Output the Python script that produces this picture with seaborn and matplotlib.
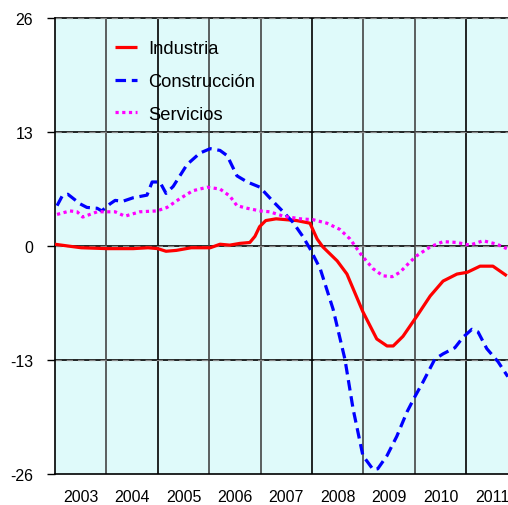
import matplotlib
matplotlib.use("Agg")
import matplotlib.pyplot as plt
import seaborn as sns
import pandas as pd

# ---- data (fractional years, % values) ----
ind_x = [2003.0, 2003.25, 2003.51, 2004.01, 2004.52, 2004.81, 2005.0, 2005.16, 2005.36, 2005.65,
         2006.02, 2006.21, 2006.4, 2006.6, 2006.79, 2006.89, 2006.98, 2007.1, 2007.3, 2007.5,
         2007.7, 2007.96, 2008.1, 2008.21, 2008.49, 2008.68, 2008.99, 2009.26, 2009.46, 2009.58,
         2009.77, 2010.04, 2010.3, 2010.55, 2010.82, 2011.02, 2011.27, 2011.52, 2011.79]
ind_y = [0.2, 0.0, -0.2, -0.3, -0.3, -0.2, -0.3, -0.6, -0.5, -0.2,
         -0.2, 0.2, 0.1, 0.3, 0.4, 1.1, 2.2, 2.9, 3.1, 3.0,
         2.9, 2.6, 0.8, -0.1, -1.7, -3.2, -7.5, -10.6, -11.4, -11.4,
         -10.3, -8.0, -5.7, -4.0, -3.2, -3.0, -2.3, -2.3, -3.4]

con_x = [2003.04, 2003.14, 2003.25, 2003.49, 2003.62, 2003.82, 2003.91, 2004.07, 2004.17, 2004.32,
         2004.52, 2004.79, 2004.89, 2005.04, 2005.16, 2005.3, 2005.57, 2005.82, 2006.02, 2006.21,
         2006.35, 2006.54, 2006.74, 2006.99, 2007.05, 2007.24, 2007.44, 2007.63, 2007.82, 2007.96,
         2008.16, 2008.41, 2008.64, 2008.8, 2008.99, 2009.19, 2009.28, 2009.46, 2009.65, 2009.85,
         2010.0, 2010.16, 2010.39, 2010.55, 2010.78, 2010.94, 2011.11, 2011.23, 2011.4, 2011.62,
         2011.81]
con_y = [4.6, 5.7, 5.9, 4.8, 4.4, 4.3, 4.0, 4.8, 5.2, 5.1,
         5.5, 5.8, 7.3, 7.3, 6.0, 6.8, 9.3, 10.6, 11.1, 10.9,
         10.3, 8.0, 7.3, 6.7, 6.3, 5.1, 3.9, 2.7, 1.1, -0.3,
         -2.6, -7.2, -12.9, -18.6, -23.9, -25.5, -25.4, -23.9, -21.7, -18.9,
         -17.2, -15.5, -12.9, -12.3, -11.6, -10.4, -9.5, -9.8, -11.7, -13.2,
         -14.9]

ser_x = [2003.04, 2003.29, 2003.43, 2003.54, 2003.82, 2004.01, 2004.17, 2004.36, 2004.65, 2004.98,
         2005.18, 2005.43, 2005.68, 2005.96, 2006.21, 2006.4, 2006.54, 2006.74, 2006.99, 2007.18,
         2007.44, 2007.77, 2008.02, 2008.29, 2008.54, 2008.74, 2008.97, 2009.19, 2009.38, 2009.56,
         2009.71, 2009.91, 2010.04, 2010.3, 2010.55, 2010.82, 2011.07, 2011.33, 2011.6, 2011.79]
ser_y = [3.6, 4.0, 3.9, 3.3, 3.9, 3.9, 3.9, 3.4, 3.9, 4.0,
         4.4, 5.4, 6.3, 6.7, 6.5, 5.7, 4.6, 4.3, 4.0, 3.9,
         3.4, 3.1, 3.0, 2.6, 1.9, 0.8, -1.1, -2.6, -3.4, -3.5,
         -3.0, -1.8, -1.1, -0.1, 0.5, 0.4, 0.1, 0.6, 0.2, -0.3]

years = [2003, 2004, 2005, 2006, 2007, 2008, 2009, 2010, 2011]
y_ticks = [26, 13, 0, -13, -26]
labels = ["Industria", "Construcción", "Servicios"]

# ---- long table ----
df = pd.concat([
    pd.DataFrame({"x": ind_x, "y": ind_y, "serie": labels[0]}),
    pd.DataFrame({"x": con_x, "y": con_y, "serie": labels[1]}),
    pd.DataFrame({"x": ser_x, "y": ser_y, "serie": labels[2]}),
], ignore_index=True)

sns.set_style("white")
plt.rcParams["font.family"] = ["Liberation Sans", "DejaVu Sans"]
plt.rcParams["text.color"] = "black"
plt.rcParams["xtick.color"] = "black"
plt.rcParams["ytick.color"] = "black"

fig = plt.figure(figsize=(5.08, 5.06), dpi=100)
ax = fig.add_axes([55 / 508, 31 / 506, (508 - 55) / 508, (475 - 19) / 506])
ax.set_facecolor("#dffafa")

xmin, xmax = 2003.0, 2003.0 + (508 - 55) / 51.4
ax.set_xlim(xmin, xmax)
ax.set_ylim(-26, 26)

# grid
for yv in [13, 0, -13, 26]:
    ax.axhline(yv, color="black", lw=1.2, zorder=1, clip_on=False)
    ax.axhline(yv, color="#888888", lw=0.9, ls=(0, (5, 4)), zorder=1.1, clip_on=False)
for i, yr in enumerate(years[1:]):
    ax.axvline(yr, color="black" if i % 3 == 1 else "#444444", lw=1.2, zorder=1)

palette = {labels[0]: "#ff0000", labels[1]: "#0000ff", labels[2]: "#ff00ff"}
sns.lineplot(data=df, x="x", y="y", hue="serie", palette=palette, ax=ax,
             sort=False, legend=False, zorder=3)
lines = ax.get_lines()[-3:]
styles = [dict(lw=2.3, ls="-"),
          dict(lw=2.3, ls=(0, (3.3, 1.8))),
          dict(lw=2.3, ls=(0, (1, 1.1)))]
for ln, st in zip(lines, styles):
    ln.set_linewidth(st["lw"])
    ln.set_linestyle(st["ls"])
    ln.set_solid_capstyle("butt")

leg = ax.legend(lines, labels, loc="upper left", bbox_to_anchor=(0.1325, 0.951),
                frameon=False, fontsize=13.2, handlelength=1.2, labelspacing=0.85,
                handletextpad=0.6, borderpad=0, borderaxespad=0, labelcolor="black")

ax.set_yticks(y_ticks)
ax.set_yticklabels([str(v) for v in y_ticks])
ax.set_xticks([y + 0.5 for y in years])
ax.set_xticklabels([str(y) for y in years])
ax.tick_params(axis="y", length=5.8, width=1, color="black", labelcolor="black", pad=10,
               labelsize=11.5, direction="out", left=True)
ax.tick_params(axis="x", length=0, pad=10.5, labelsize=11.5, labelcolor="black")
ax.set_xlabel("")
ax.set_ylabel("")
for s in ["top", "right"]:
    ax.spines[s].set_visible(False)
ax.spines["left"].set_color("black")
ax.spines["left"].set_linewidth(1.2)
ax.spines["bottom"].set_color("black")
ax.spines["bottom"].set_linewidth(1.2)

fig.savefig("out.png", dpi=100)
